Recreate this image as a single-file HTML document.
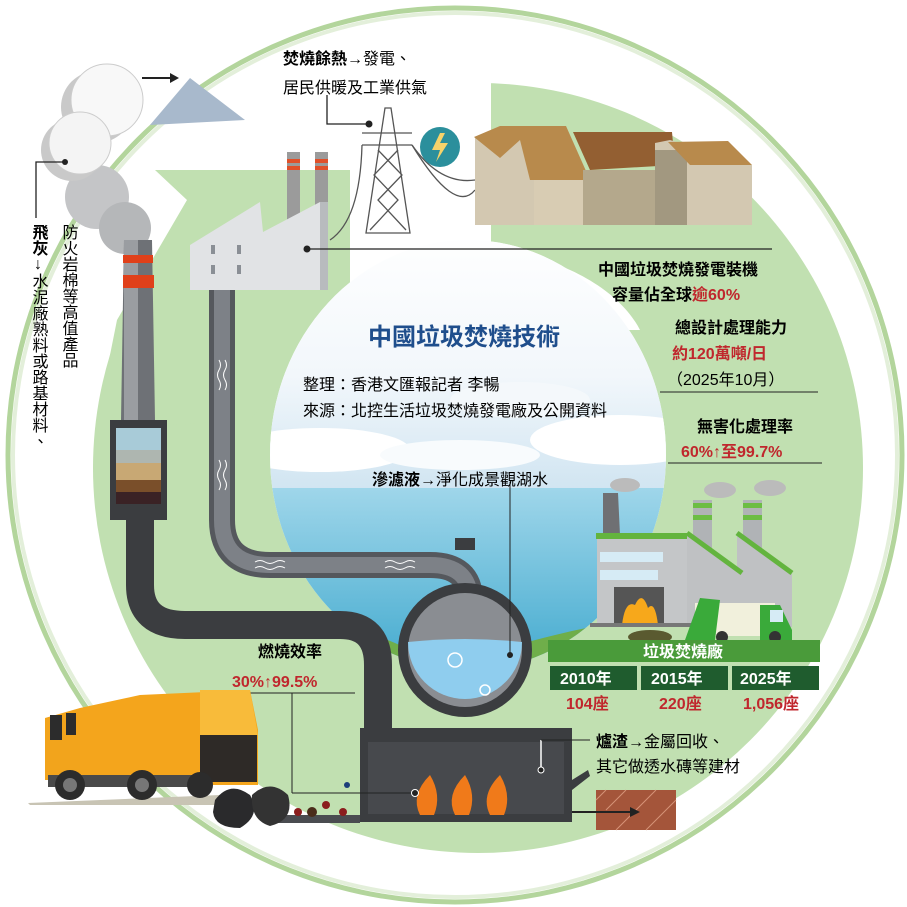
<!DOCTYPE html>
<html><head><meta charset="utf-8">
<style>
html,body{margin:0;padding:0;background:#fff;}
svg{display:block;}
text{font-family:"Liberation Sans","Noto Sans CJK TC",sans-serif;}
.b{font-weight:bold;}
.r{fill:#c0272d;font-weight:bold;}
</style></head><body>
<svg width="907" height="907" viewBox="0 0 907 907" xmlns="http://www.w3.org/2000/svg">
<defs>
<linearGradient id="sky" x1="0" y1="0" x2="0" y2="1">
<stop offset="0" stop-color="#ffffff"/><stop offset="0.55" stop-color="#f2f7fb"/><stop offset="1" stop-color="#cfe4f1"/>
</linearGradient>
<linearGradient id="sea" x1="0" y1="0" x2="0" y2="1">
<stop offset="0" stop-color="#9fd6ea"/><stop offset="1" stop-color="#3aa6cc"/>
</linearGradient>
<clipPath id="scene"><ellipse cx="468" cy="455" rx="198" ry="215"/></clipPath>
</defs>
<!-- thick green circular band -->
<circle cx="478" cy="468" r="385" fill="#c1e0b1"/>
<polygon points="155,170 350,170 350,300 250,420 95,430 117,320 187,200" fill="#c1e0b1"/>
<!-- white gaps -->
<polygon points="0,0 491,0 491,72 491,250 420,250 350,250 350,170 0,170" fill="#fff"/>
<rect x="350" y="160" width="141" height="95" fill="#fff"/>
<path d="M313,327 L350,285 L350,250 L491,250 C560,255 620,290 640,330 L470,330Z" fill="#fff"/>
<ellipse cx="468" cy="455" rx="198" ry="215" fill="#fff"/>
<!-- thin outer ring -->
<circle cx="455" cy="455" r="447" fill="none" stroke="#b3d59c" stroke-width="5"/>
<circle cx="455" cy="455" r="442" fill="none" stroke="#e3efda" stroke-width="4"/>
<!-- scene -->
<g clip-path="url(#scene)">
<rect x="260" y="230" width="420" height="265" fill="url(#sky)"/>
<ellipse cx="320" cy="450" rx="90" ry="22" fill="#fff"/>
<ellipse cx="620" cy="440" rx="90" ry="25" fill="#fff"/>
<ellipse cx="460" cy="455" rx="80" ry="15" fill="#f8fbfd"/>
<ellipse cx="520" cy="400" rx="70" ry="18" fill="#f4f8fb"/>
<rect x="260" y="488" width="420" height="200" fill="url(#sea)"/>
<path d="M260,630 Q330,610 410,650 L410,700 L260,700Z" fill="#6fae4a"/>
<path d="M500,650 Q600,620 680,615 L680,700 L500,700Z" fill="#6fae4a"/>
</g>
<!-- factory -->
<rect x="287" y="152" width="13" height="90" fill="#9b9b9b"/>
<rect x="287" y="159" width="13" height="4" fill="#e0502a"/><rect x="287" y="166" width="13" height="4" fill="#e0502a"/>
<rect x="315" y="152" width="13" height="90" fill="#9b9b9b"/>
<rect x="315" y="159" width="13" height="4" fill="#e0502a"/><rect x="315" y="166" width="13" height="4" fill="#e0502a"/>
<polygon points="190,245 260,202 263,232 320,202 328,202 328,290 190,290" fill="#e1e3e5"/>
<rect x="320" y="202" width="8" height="88" fill="#b8bbbe"/>
<g fill="#8a8f95"><rect x="211" y="245" width="4" height="9"/><rect x="237" y="245" width="4" height="9"/><rect x="211" y="265" width="4" height="9"/><rect x="237" y="265" width="4" height="9"/></g>
<line x1="307" y1="249" x2="772" y2="249" stroke="#222" stroke-width="1.3"/>
<circle cx="307" cy="249" r="3.5" fill="#222"/>
<!-- gray pipe from factory -->
<path d="M222,290 L222,520 Q222,565 270,565 L430,565 Q470,565 470,600" fill="none" stroke="#55585d" stroke-width="26"/>
<path d="M222,290 L222,520 Q222,565 270,565 L430,565 Q470,565 470,600" fill="none" stroke="#7d8187" stroke-width="16"/>
<g stroke="#fff" stroke-width="1" fill="none">
<path d="M219,360 q3,5 0,10 q-3,5 0,10 q3,5 0,10"/><path d="M225,360 q3,5 0,10 q-3,5 0,10 q3,5 0,10"/>
<path d="M219,460 q3,5 0,10 q-3,5 0,10 q3,5 0,10"/><path d="M225,460 q3,5 0,10 q-3,5 0,10 q3,5 0,10"/>
<path d="M255,562 q5,-3 10,0 q5,3 10,0 q5,-3 10,0"/><path d="M255,568 q5,-3 10,0 q5,3 10,0 q5,-3 10,0"/>
<path d="M385,562 q5,-3 10,0 q5,3 10,0 q5,-3 10,0"/><path d="M385,568 q5,-3 10,0 q5,3 10,0 q5,-3 10,0"/>
</g>
<!-- left chimney -->
<circle cx="97" cy="197" r="32" fill="#c4c5c7"/>
<circle cx="125" cy="228" r="26" fill="#b5b7b9"/>
<polygon points="124,240 152,240 155,420 121,420" fill="#6e7176"/>
<rect x="124" y="240" width="14" height="180" fill="#9a9da1"/>
<rect x="123" y="255" width="30" height="8" fill="#e0401a"/>
<rect x="123" y="275" width="31" height="13" fill="#e0401a"/>
<rect x="110" y="420" width="57" height="100" fill="#3b3d40"/>
<rect x="116" y="428" width="45" height="22" fill="#a8cbd8"/>
<rect x="116" y="450" width="45" height="13" fill="#aeb6b0"/>
<rect x="116" y="463" width="45" height="17" fill="#c8a874"/>
<rect x="116" y="480" width="45" height="12" fill="#7a4f2a"/>
<rect x="116" y="492" width="45" height="12" fill="#3a2225"/>
<!-- dark pipe from filter to furnace -->
<path d="M140,520 L140,585 Q140,625 185,625 L340,625 Q378,625 378,665 L378,735" fill="none" stroke="#3b3d40" stroke-width="28"/>
<!-- sphere tank -->
<rect x="455" y="538" width="20" height="12" fill="#3b3d40"/>
<circle cx="465" cy="650" r="67" fill="#3b3d40"/>
<circle cx="465" cy="650" r="57" fill="#8a8d92"/>
<path d="M408,642 Q465,636 522,642 A57,57 0 0 1 408,642Z" fill="#8fcdee"/>
<circle cx="455" cy="660" r="7" fill="none" stroke="#fff" stroke-width="1.5"/>
<circle cx="485" cy="690" r="5" fill="none" stroke="#fff" stroke-width="1.5"/>
<line x1="510" y1="482" x2="510" y2="655" stroke="#222"/>
<circle cx="510" cy="655" r="3" fill="#222"/>
<!-- furnace -->
<rect x="360" y="728" width="212" height="94" fill="#3b3d40"/>
<rect x="368" y="742" width="196" height="72" fill="#47494d"/>
<rect x="270" y="815" width="90" height="8" fill="#4a4c50"/>
<path d="M420,815 Q410,795 430,775 Q442,795 434,815Z" fill="#f07a1a"/>
<path d="M455,815 Q445,795 465,775 Q477,795 469,815Z" fill="#f07a1a"/>
<path d="M490,815 Q480,795 500,775 Q512,795 504,815Z" fill="#f07a1a"/>
<line x1="541" y1="740" x2="541" y2="770" stroke="#fff" stroke-width="1.5"/>
<circle cx="541" cy="770" r="3" fill="#222" stroke="#fff"/>
<line x1="541" y1="740" x2="590" y2="740" stroke="#222"/>
<polygon points="572,780 588,770 590,776 572,790" fill="#3b3d40"/>
<line x1="292" y1="693" x2="292" y2="793" stroke="#222"/>
<line x1="292" y1="793" x2="415" y2="793" stroke="#222"/>
<circle cx="415" cy="793" r="3.5" fill="#222" stroke="#fff"/>
<line x1="228" y1="693" x2="355" y2="693" stroke="#222"/>
<!-- brick -->
<rect x="596" y="790" width="80" height="40" fill="#a4553a"/>
<g stroke="#d69277" stroke-width="1"><path d="M596,800 l10,-10 M606,810 l20,-20 M616,830 l40,-40 M646,830 l30,-30"/></g>
<line x1="572" y1="812" x2="630" y2="812" stroke="#222" stroke-width="2"/>
<polygon points="630,807 640,812 630,817" fill="#222"/>
<!-- truck -->
<polygon points="80,708 140,695 250,690 258,730 258,785 80,785" fill="#f4a51c"/>
<polygon points="200,690 250,690 258,735 200,735" fill="#f8bb3a"/>
<rect x="200" y="735" width="57" height="47" fill="#2e2a27"/>
<polygon points="45,718 80,708 80,780 45,780" fill="#f2a41c"/>
<rect x="50" y="715" width="12" height="25" fill="#2c2c2c"/><rect x="66" y="713" width="10" height="22" fill="#2c2c2c"/>
<polygon points="28,803 220,795 270,805 30,805" fill="#c8c4b4"/>
<rect x="48" y="775" width="150" height="12" fill="#4a4a4a"/>
<circle cx="70" cy="785" r="15" fill="#2c2c2c"/><circle cx="70" cy="785" r="7" fill="#777"/>
<circle cx="142" cy="785" r="15" fill="#2c2c2c"/><circle cx="142" cy="785" r="7" fill="#777"/>
<circle cx="200" cy="785" r="13" fill="#2c2c2c"/>
<path d="M215,800 Q230,780 250,795 Q262,815 240,828 Q215,828 213,812Z" fill="#2a2a2c"/>
<path d="M252,795 Q270,778 288,795 Q295,820 270,826 Q250,820 252,795Z" fill="#333"/>
<circle cx="298" cy="812" r="4" fill="#8b1d1d"/><circle cx="326" cy="805" r="4" fill="#8b1d1d"/><circle cx="343" cy="812" r="4" fill="#8b1d1d"/><circle cx="312" cy="812" r="5" fill="#4a2c1a"/><circle cx="347" cy="785" r="3" fill="#1c3e7a"/>
<!-- power tower -->
<g stroke="#555" stroke-width="1.3" fill="none">
<polygon points="366,233 385,108 391,108 410,233"/>
<line x1="362" y1="133" x2="412" y2="133"/><line x1="362" y1="145" x2="412" y2="145"/>
<path d="M378,150 L402,175 L378,200 L406,230 M398,150 L374,175 L398,200 L370,230"/>
<path d="M412,145 Q440,185 475,180"/><path d="M412,145 Q455,215 475,190"/>
<path d="M362,145 Q360,220 330,240"/>
</g>
<path d="M327,95 L327,124 L368,124" fill="none" stroke="#222" stroke-width="1.3"/>
<circle cx="369" cy="124" r="3.5" fill="#222"/>
<circle cx="440" cy="147" r="20" fill="#2b8f9c"/>
<polygon points="440,133 432,150 440,150 436,162 448,143 440,143 445,133" fill="#f6d36a"/>
<!-- houses -->
<polygon points="475,137 500,126 566,126 590,180 590,225 475,225" fill="#d3c8b1"/>
<polygon points="474,137 500,126 566,126 590,180 530,180 520,140 500,158" fill="#b88a4c"/>
<rect x="534" y="180" width="70" height="45" fill="#d8ccb3"/>
<polygon points="573,132 672,132 675,165 590,170" fill="#935f32"/>
<rect x="583" y="170" width="125" height="55" fill="#b4a88c"/>
<polygon points="655,143 670,140 752,165 752,225 655,225" fill="#d3c8b1"/>
<rect x="655" y="150" width="32" height="75" fill="#a29880"/>
<polygon points="668,142 728,141 752,165 690,165" fill="#b88a4c"/>
<!-- bubbles -->
<circle cx="97" cy="107" r="36" fill="#c9c9c9"/>
<circle cx="107" cy="100" r="36" fill="#f8f8f8" stroke="#ccc"/>
<circle cx="72" cy="150" r="31" fill="#c9c9c9"/>
<circle cx="80" cy="143" r="31" fill="#f4f4f4" stroke="#ccc"/>
<line x1="142" y1="78" x2="170" y2="78" stroke="#222" stroke-width="2"/>
<polygon points="170,73 179,78 170,83" fill="#222"/>
<polygon points="150,125 190,78 245,120" fill="#a8b9cc"/>
<path d="M65,162 L36,162 L36,218" fill="none" stroke="#222" stroke-width="1.3"/>
<circle cx="65" cy="162" r="3" fill="#222"/>
<!-- right factory -->
<polygon points="603,493 618,493 620,535 603,535" fill="#6f7073"/>
<ellipse cx="625" cy="485" rx="15" ry="7" fill="#bbb"/>
<rect x="693" y="500" width="19" height="50" fill="#b0b3b6"/><rect x="693" y="503" width="19" height="5" fill="#6cbd44"/><rect x="693" y="515" width="19" height="5" fill="#6cbd44"/>
<rect x="743" y="500" width="19" height="50" fill="#b0b3b6"/><rect x="743" y="503" width="19" height="5" fill="#6cbd44"/><rect x="743" y="515" width="19" height="5" fill="#6cbd44"/>
<ellipse cx="720" cy="490" rx="16" ry="8" fill="#bbb"/><ellipse cx="770" cy="488" rx="16" ry="8" fill="#bbb"/>
<rect x="597" y="537" width="90" height="90" fill="#c4c6c8"/>
<rect x="596" y="533" width="92" height="6" fill="#63b43e"/>
<rect x="600" y="552" width="63" height="10" fill="#d6ebf5"/><rect x="600" y="570" width="58" height="10" fill="#d6ebf5"/>
<polygon points="687,533 742,573 742,627 687,627" fill="#bfc1c3"/>
<polygon points="737,533 792,573 792,627 737,627" fill="#bfc1c3"/>
<path d="M687,533 L742,573 M737,533 L792,573" stroke="#63b43e" stroke-width="5"/>
<rect x="614" y="587" width="50" height="40" fill="#555"/>
<path d="M622,625 Q625,600 635,605 Q642,590 648,608 Q655,600 658,625Z" fill="#f7a81b"/>
<rect x="590" y="623" width="110" height="4" fill="#777"/>
<rect x="695" y="603" width="80" height="33" fill="#f1f0dc"/>
<polygon points="685,640 700,598 720,600 715,640" fill="#3aaa3a"/>
<polygon points="760,605 780,605 792,630 792,640 760,640" fill="#3aaa3a"/>
<rect x="770" y="610" width="13" height="12" fill="#d6ebf5"/>
<circle cx="722" cy="637" r="6" fill="#333"/><circle cx="775" cy="637" r="6" fill="#333"/>
<ellipse cx="650" cy="637" rx="22" ry="7" fill="#5a5a30"/>
<!-- texts -->
<text x="283" y="64" font-size="16"><tspan class="b">焚燒餘熱</tspan>→發電、</text>
<text x="283" y="93" font-size="16">居民供暖及工業供氣</text>
<text x="598" y="275" font-size="16" class="b">中國垃圾焚燒發電裝機</text>
<text x="612" y="300" font-size="16" class="b">容量佔全球<tspan fill="#c0272d">逾60%</tspan></text>
<text x="675" y="333" font-size="16" class="b">總設計處理能力</text>
<text x="672" y="359" font-size="16" class="r">約120萬噸/日</text>
<text x="667" y="385" font-size="16">（2025年10月）</text>
<line x1="660" y1="392" x2="818" y2="392" stroke="#222"/>
<text x="697" y="432" font-size="16" class="b">無害化處理率</text>
<text x="681" y="457" font-size="16" class="r">60%↑至99.7%</text>
<line x1="668" y1="463" x2="822" y2="463" stroke="#222"/>
<text x="368" y="345" font-size="24" class="b" fill="#1f4e8c">中國垃圾焚燒技術</text>
<text x="303" y="390" font-size="16">整理：香港文匯報記者  李暢</text>
<text x="303" y="416" font-size="16">來源：北控生活垃圾焚燒發電廠及公開資料</text>
<text x="372" y="485" font-size="16"><tspan class="b">滲濾液</tspan>→淨化成景觀湖水</text>
<text x="258" y="657" font-size="16" class="b">燃燒效率</text>
<text x="232" y="687" font-size="16" class="r">30%↑99.5%</text>
<text x="596" y="747" font-size="16"><tspan class="b">爐渣</tspan>→金屬回收、</text>
<text x="596" y="772" font-size="16">其它做透水磚等建材</text>
<rect x="548" y="640" width="272" height="22" fill="#4a9b3a"/>
<text x="643" y="657" font-size="16" fill="#fff" class="b">垃圾焚燒廠</text>
<rect x="550" y="666" width="87" height="24" fill="#1f5c2e"/>
<rect x="641" y="666" width="87" height="24" fill="#1f5c2e"/>
<rect x="732" y="666" width="87" height="24" fill="#1f5c2e"/>
<text x="560" y="684" font-size="16" fill="#fff" class="b">2010年</text>
<text x="651" y="684" font-size="16" fill="#fff" class="b">2015年</text>
<text x="740" y="684" font-size="16" fill="#fff" class="b">2025年</text>
<text x="566" y="709" font-size="16" class="r">104座</text>
<text x="659" y="709" font-size="16" class="r">220座</text>
<text x="743" y="709" font-size="16" class="r">1,056座</text>
<text font-size="16" style="writing-mode:vertical-rl;text-orientation:upright"><tspan x="38" y="224" class="b">飛灰</tspan><tspan>↓水泥廠熟料或路基材料、</tspan></text>
<text x="68" y="224" font-size="16" style="writing-mode:vertical-rl">防火岩棉等高值產品</text>
</svg>
</body></html>
